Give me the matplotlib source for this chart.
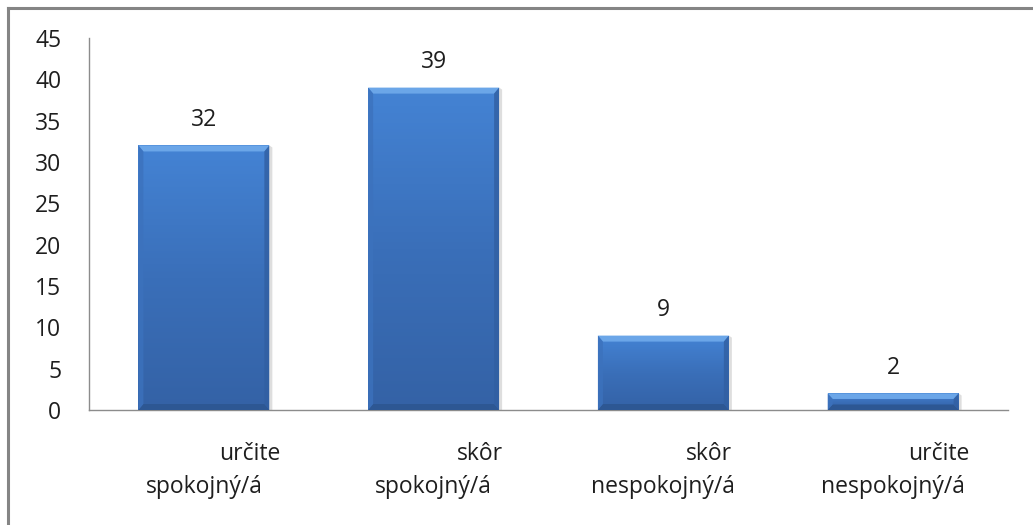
import numpy as np
import matplotlib
matplotlib.use("Agg")
import matplotlib.pyplot as plt
from matplotlib.patches import Polygon
from matplotlib.lines import Line2D
from matplotlib.colors import LinearSegmentedColormap
import matplotlib.transforms as mtransforms

# data
line1 = ["určite", "skôr", "skôr", "určite"]
line2 = ["spokojný/á", "spokojný/á", "nespokojný/á", "nespokojný/á"]
values = [32, 39, 9, 2]
y_ticks = [0, 5, 10, 15, 20, 25, 30, 35, 40, 45]

plt.rcParams['font.family'] = ['Open Sans', 'DejaVu Sans']
FS = 16.5
TXT = "#1e1e1e"

W, H = 1033, 525
fig = plt.figure(figsize=(W / 100, H / 100), dpi=100)
ax = fig.add_axes([89 / W, 1 - 410 / H, (1008 - 89) / W, (410 - 38) / H])

x = np.arange(len(values))
bar_w = 0.57
ax.set_xlim(-0.5, len(values) - 0.5)
ax.set_ylim(0, 45)

bars = ax.bar(x, values, width=bar_w, color="#3f78c6", zorder=2)

# gradient + bevel look
grad = LinearSegmentedColormap.from_list("bg", ["#3462a6", "#3a6fb9", "#4483d4"])
px_x = (1008 - 89) / 4.0   # pixels per category
px_y = (410 - 38) / 45.0   # pixels per unit
for b in bars:
    x0, w, h = b.get_x(), b.get_width(), b.get_height()
    img = ax.imshow(np.linspace(0, 1, 100).reshape(-1, 1), cmap=grad, origin="lower",
                    extent=[x0, x0 + w, 0, h], aspect="auto", zorder=3)
    img.set_clip_path(b)
    bx = 5 / px_x
    by = min(6 / px_y, h / 3)
    # top bevel (light)
    ax.add_patch(Polygon([[x0, h], [x0 + w, h], [x0 + w - bx, h - by], [x0 + bx, h - by]],
                         closed=True, facecolor="#6ba6e8", edgecolor="none", zorder=4))
    # bottom bevel (dark)
    ax.add_patch(Polygon([[x0, 0], [x0 + w, 0], [x0 + w - bx, by], [x0 + bx, by]],
                         closed=True, facecolor="#2d5793", edgecolor="none", zorder=4))
    # side bevels
    ax.add_patch(Polygon([[x0, 0], [x0 + bx, by], [x0 + bx, h - by], [x0, h]],
                         closed=True, facecolor="#3c72bd", edgecolor="none", alpha=0.8, zorder=4))
    ax.add_patch(Polygon([[x0 + w, 0], [x0 + w - bx, by], [x0 + w - bx, h - by], [x0 + w, h]],
                         closed=True, facecolor="#315fa2", edgecolor="none", alpha=0.8, zorder=4))
    # soft shadow on the right
    ax.add_patch(Polygon([[x0 + w, 0], [x0 + w + 3 / px_x, 0], [x0 + w + 3 / px_x, h - 2 / px_y], [x0 + w, h]],
                         closed=True, facecolor="#dedede", edgecolor="none", zorder=1))

# value labels
for xi, v in zip(x, values):
    ax.annotate(str(v), (xi, v), xytext=(0, 10), textcoords="offset points",
                ha="center", va="bottom", fontsize=FS, color=TXT)

# category labels (two lines, first line shifted right like the original)
ax.set_xticks(x)
ax.set_xticklabels([""] * len(x))
for xi, a, b in zip(x, line1, line2):
    t1 = mtransforms.offset_copy(ax.get_xaxis_transform(), fig=fig, x=46 * 0.72, y=-44 * 0.72, units="points")
    ax.text(xi, 0, a, transform=t1, ha="center", va="center", fontsize=FS, color=TXT)
    t2 = mtransforms.offset_copy(ax.get_xaxis_transform(), fig=fig, x=0, y=-77 * 0.72, units="points")
    ax.text(xi, 0, b, transform=t2, ha="center", va="center", fontsize=FS, color=TXT)

ax.set_yticks(y_ticks)
ax.tick_params(axis="both", length=0, labelsize=FS, labelcolor=TXT)
ax.tick_params(axis="y", pad=20)
for s in ["top", "right"]:
    ax.spines[s].set_visible(False)
ax.spines["left"].set_color("#8c8c8c")
ax.spines["bottom"].set_color("#8c8c8c")
ax.spines["left"].set_linewidth(1.0)
ax.spines["bottom"].set_linewidth(1.0)

# chart area border (only top and left visible in the crop)
fig.add_artist(Line2D([7.5 / W, 7.5 / W], [0, 1 - 8 / H], color="#858585", lw=2.2))
fig.add_artist(Line2D([7.5 / W, 1], [1 - 8 / H, 1 - 8 / H], color="#858585", lw=2.2))

fig.savefig("out.png", dpi=100)
